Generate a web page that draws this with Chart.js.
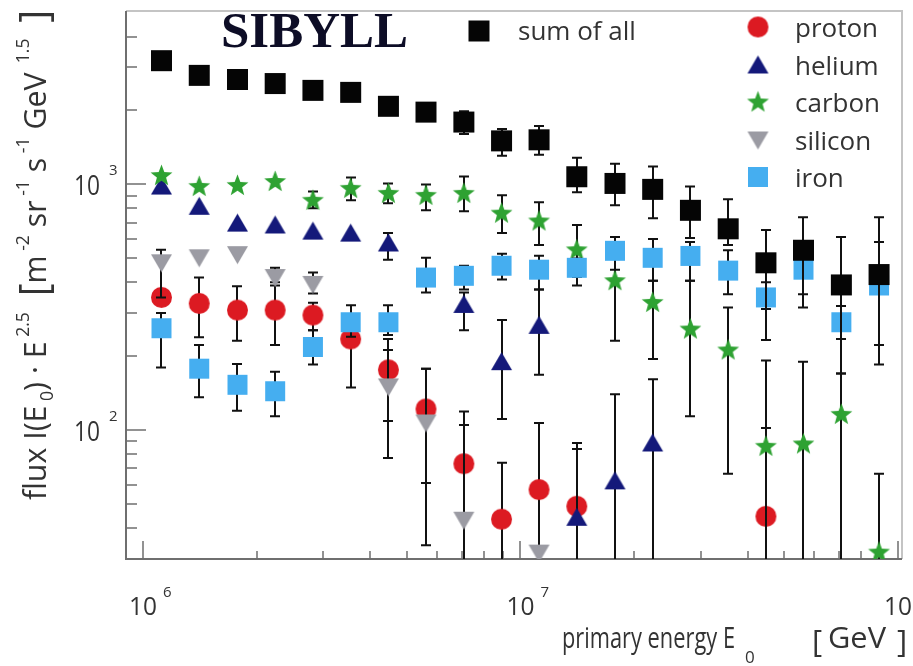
<!DOCTYPE html>
<html>
<head>
<meta charset="utf-8">
<title>SIBYLL flux</title>
<script src="https://cdn.jsdelivr.net/npm/chart.js@4.4.1/dist/chart.umd.min.js"></script>
<style>
  html, body { margin: 0; padding: 0; background: #fff; }
  canvas { display: block; }
</style>
</head>
<body>
<canvas id="fluxChart" width="913" height="666"></canvas>
<script>
// primary energy bins [GeV]
const energy = [1.12e6, 1.41e6, 1.78e6, 2.24e6, 2.82e6, 3.55e6, 4.47e6, 5.62e6, 7.08e6, 8.91e6,
                1.12e7, 1.41e7, 1.78e7, 2.24e7, 2.82e7, 3.55e7, 4.47e7, 5.62e7, 7.08e7, 8.91e7];

// flux * E^2.5 per mass group
const sumAll  = [3190, 2780, 2675, 2575, 2415, 2370, 2080, 1970, 1795, 1505, 1520, 1075, 1010, 955, 785, 660, 480, 540, 390, 430];
const proton  = [347, 328, 308, 308, 294, 235, 176, 122, 73, 43.4, 57.3, 49, null, null, null, null, 44.6, null, null, null];
const helium  = [985, 815, 696, 684, 646, 634, 578, null, 325, 190, 267, 44.2, 62.2, 88.7, null, null, null, null, null, null];
const carbon  = [1087, 982, 991, 1028, 862, 964, 920, 903, 920, 764, 710, 542, 406, 331, 258, 212, 86, 87.9, 116, 31.9];
const silicon = [480, 503, 518, 418, 392, null, 150, 107, 43, null, 31.6, null, null, null, null, null, null, null, null, null];
const iron    = [260, 178, 153, 144, 218, 275, 275, 418, 425, 467, 450, 458, 537, 503, 512, 446, 347, 450, 275, 388];

// error bars as [low, high]; null = hidden behind the marker
const sumErr = [null, null, null, null, null, null, null, null, [1606, 1987], [1309, 1683], [1321, 1729],
                [929, 1285], [822, 1215], [729, 1182], [605, 982], [567, 871], [311, 653], [357, 736], [170, 611], [222, 736]];
const protonErr = [null, [239, 418], [231, 385], [222, 388], [255, 330], [149, 290], [109, 235], [61, 178], [20, 119],
                   [20, 73.6], [20, 107], [20, 88.7], null, null, null, null, [20, 102], null, null, null];
const heliumErr = [null, null, null, null, null, null, [494, 634], null, [255, 363], [111, 281], [168, 374],
                   [20, 83.8], [20, 140], [20, 161], null, null, null, null, null, null];
const carbonErr = [null, null, null, null, [800, 937], [862, 1067], [838, 1009], [785, 1000], [778, 1077], [634, 903],
                   [567, 846], [388, 684], [231, 513], [195, 406], [114, 406], [66.5, 316], [20, 192], [20, 190], [20, 170], [20, 66.5]];
const siliconErr = [[347, 542], null, null, [400, 458], [360, 438], null, [77, 212], [34, 178], [20, 105], null,
                    null, null, null, null, null, null, null, null, null, null];
const ironErr = [[180, 300], [136, 222], [120, 186], [114, 173], [185, 255], [240, 322], [244, 322], [363, 503], [374, 467], [410, 522],
                 [374, 513], [420, 500], [450, 611], [406, 600], [406, 583], [357, 540], [233, 400], [316, 560], [235, 320], [185, 583]];

// axis ticks
const xMajor = [1e6, 1e7, 1e8];
const xMajorExp = ['6', '7', '8'];
const xMinor = [2e6, 3e6, 4e6, 5e6, 6e6, 7e6, 8e6, 9e6, 2e7, 3e7, 4e7, 5e7, 6e7, 7e7, 8e7, 9e7];
const yMajor = [1e2, 1e3];
const yMajorExp = ['2', '3'];
const yMinor = [40, 50, 60, 70, 80, 90, 200, 300, 400, 500, 600, 700, 800, 900, 2000, 3000, 4000];

const SANS = '"Open Sans", "DejaVu Sans", sans-serif';
const TEXT = '#333';

// marker sprites, shared by the datasets and the legend
function sprite(kind, color, size) {
  const c = document.createElement('canvas');
  c.width = size + 2; c.height = size + 2;
  const g = c.getContext('2d');
  const m = (size + 2) / 2, h = size / 2;
  g.fillStyle = color;
  g.beginPath();
  if (kind === 'square') {
    g.rect(m - h, m - h, size, size);
  } else if (kind === 'circle') {
    g.arc(m, m, h, 0, Math.PI * 2);
  } else if (kind === 'up') {
    g.moveTo(m, m - h * 0.9);
    g.lineTo(m + h, m + h * 0.8);
    g.lineTo(m - h, m + h * 0.8);
  } else if (kind === 'down') {
    g.moveTo(m, m + h * 0.9);
    g.lineTo(m + h, m - h * 0.8);
    g.lineTo(m - h, m - h * 0.8);
  } else if (kind === 'star') {
    for (let k = 0; k < 10; k++) {
      const r = k % 2 ? h * 0.42 : h;
      const a = -Math.PI / 2 + k * Math.PI / 5;
      g.lineTo(m + r * Math.cos(a), m + 0.5 + r * Math.sin(a));
    }
  }
  g.closePath();
  g.fill();
  return c;
}

const marks = {
  sum: sprite('square', '#050505', 21),
  proton: sprite('circle', '#dc1a22', 21),
  helium: sprite('up', '#14197a', 21),
  carbon: sprite('star', '#2ea232', 23),
  silicon: sprite('down', '#9b9ba3', 21),
  iron: sprite('square', '#45aef0', 20)
};

function points(values) {
  return energy.map((e, i) => ({ x: e, y: values[i] })).filter(p => p.y !== null);
}

function group(label, values, errors, mark) {
  return {
    label: label,
    data: points(values),
    errors: errors,
    pointStyle: mark,
    pointRadius: 10,
    showLine: false
  };
}

function text(ctx, str, x, y, size, o) {
  o = o || {};
  ctx.save();
  ctx.font = (o.weight || '400') + ' ' + size + 'px ' + (o.family || SANS);
  ctx.fillStyle = o.color || TEXT;
  ctx.textBaseline = 'alphabetic';
  const w = ctx.measureText(str).width;
  const sx = o.width ? o.width / w : (o.sx || 1);
  let x0 = x;
  if (o.align === 'center') x0 = x - w * sx / 2;
  if (o.align === 'right') x0 = x - w * sx;
  ctx.translate(x0, y);
  ctx.scale(sx, 1);
  ctx.fillText(str, 0, 0);
  ctx.restore();
}

// a line of mixed-size pieces squeezed to a given length
function textRuns(ctx, parts, length) {
  let total = 0;
  const widths = parts.map(p => {
    ctx.font = p.s + 'px ' + SANS;
    const w = ctx.measureText(p.t).width;
    total += w;
    return w;
  });
  const k = length / total;
  let u = 0;
  ctx.fillStyle = TEXT;
  parts.forEach((p, i) => {
    ctx.save();
    ctx.font = p.s + 'px ' + SANS;
    ctx.translate(u, p.dy || 0);
    ctx.scale(k, 1);
    ctx.fillText(p.t, 0, 0);
    ctx.restore();
    u += widths[i] * k;
  });
}

const errorBars = {
  id: 'errorBars',
  beforeDatasetDraw(chart, args) {
    const ds = chart.data.datasets[args.index];
    if (!ds.errors) return;
    const { ctx, chartArea: a } = chart;
    const xs = chart.scales.x, ys = chart.scales.y;
    ctx.save();
    ctx.beginPath();
    ctx.rect(a.left, a.top, a.right - a.left, a.bottom - a.top);
    ctx.clip();
    ctx.strokeStyle = '#111';
    ctx.lineWidth = 2;
    ds.errors.forEach((e, i) => {
      if (!e) return;
      const x = Math.round(xs.getPixelForValue(energy[i]));
      const lo = ys.getPixelForValue(e[0]);
      const hi = ys.getPixelForValue(e[1]);
      ctx.beginPath();
      ctx.moveTo(x, lo); ctx.lineTo(x, hi);
      ctx.moveTo(x - 5, hi); ctx.lineTo(x + 5, hi);
      ctx.moveTo(x - 5, lo); ctx.lineTo(x + 5, lo);
      ctx.stroke();
    });
    ctx.restore();
  }
};

const frame = {
  id: 'frame',
  beforeDatasetsDraw(chart) {
    const { ctx, chartArea: a } = chart;
    const xs = chart.scales.x, ys = chart.scales.y;
    ctx.save();
    ctx.lineWidth = 2;
    ctx.strokeStyle = '#c4c4c4';
    ctx.beginPath();
    ctx.moveTo(a.left, a.top); ctx.lineTo(a.right, a.top); ctx.lineTo(a.right, a.bottom);
    ctx.stroke();
    ctx.strokeStyle = '#6f6f6f';
    ctx.beginPath();
    ctx.moveTo(a.left, a.top); ctx.lineTo(a.left, a.bottom); ctx.lineTo(a.right, a.bottom);
    ctx.stroke();
    // inward tick marks
    ctx.lineWidth = 1.5;
    ctx.beginPath();
    yMajor.forEach(v => { const y = Math.round(ys.getPixelForValue(v)); ctx.moveTo(a.left, y); ctx.lineTo(a.left + 20, y); });
    yMinor.forEach(v => { const y = Math.round(ys.getPixelForValue(v)); ctx.moveTo(a.left, y); ctx.lineTo(a.left + 11, y); });
    xMajor.forEach(v => { const x = Math.round(xs.getPixelForValue(v)); ctx.moveTo(x, a.bottom); ctx.lineTo(x, a.bottom - 18); });
    xMinor.forEach(v => { const x = Math.round(xs.getPixelForValue(v)); ctx.moveTo(x, a.bottom); ctx.lineTo(x, a.bottom - 8); });
    ctx.stroke();
    ctx.restore();
  },
  afterDraw(chart) {
    const { ctx } = chart;
    const xs = chart.scales.x, ys = chart.scales.y;

    // decade labels
    xMajor.forEach((v, i) => {
      const x = xs.getPixelForValue(v);
      text(ctx, '10', x, 615, 26, { align: 'center', width: 28 });
      text(ctx, xMajorExp[i], x + 20, 597, 15);
    });
    yMajor.forEach((v, i) => {
      const y = ys.getPixelForValue(v);
      text(ctx, '10', 100, y + 11, 27, { align: 'right', width: 26 });
      text(ctx, yMajorExp[i], 109, y - 9, 15);
    });

    // axis titles
    text(ctx, 'primary energy E', 562, 648, 29, { width: 173 });
    text(ctx, '0', 745, 663, 17);
    text(ctx, '[', 812, 652, 31);
    text(ctx, 'GeV', 828, 648, 29, { width: 58 });
    text(ctx, ']', 897, 652, 31);

    ctx.save();
    ctx.translate(46, 500);
    ctx.rotate(-Math.PI / 2);
    textRuns(ctx, [
      { t: 'flux I(E', s: 31 },
      { t: ' 0', s: 18, dy: 7 },
      { t: ')', s: 31 },
      { t: ' · E', s: 31 },
      { t: ' 2.5', s: 18, dy: -17 },
      { t: '  ', s: 31 },
      { t: '[', s: 40, dy: 2 },
      { t: 'm', s: 31 },
      { t: ' -2', s: 18, dy: -17 },
      { t: ' sr', s: 31 },
      { t: ' -1', s: 18, dy: -17 },
      { t: ' s', s: 31 },
      { t: ' -1', s: 18, dy: -17 },
      { t: ' GeV', s: 31 },
      { t: '  1.5', s: 18, dy: -17 },
      { t: '  ', s: 31 },
      { t: ']', s: 40, dy: 2 }
    ], 490);
    ctx.restore();

    // model name
    text(ctx, 'SIBYLL', 221, 47, 50, { weight: '700', family: '"Liberation Serif", "Times New Roman", serif', color: '#0d0d26', width: 187 });

    // legend
    const put = (img, x, y) => ctx.drawImage(img, x - img.width / 2, y - img.height / 2);
    put(marks.sum, 479, 31);
    text(ctx, 'sum of all', 518, 40, 26);
    [['proton', marks.proton, 27], ['helium', marks.helium, 65], ['carbon', marks.carbon, 102],
     ['silicon', marks.silicon, 140], ['iron', marks.iron, 177]].forEach(r => {
      put(r[1], 758, r[2]);
      text(ctx, r[0], 795, r[2] + 10, 26);
    });
  }
};

new Chart(document.getElementById('fluxChart'), {
  type: 'scatter',
  data: {
    datasets: [
      group('sum of all', sumAll, sumErr, marks.sum),
      group('iron', iron, ironErr, marks.iron),
      group('silicon', silicon, siliconErr, marks.silicon),
      group('carbon', carbon, carbonErr, marks.carbon),
      group('helium', helium, heliumErr, marks.helium),
      group('proton', proton, protonErr, marks.proton)
    ]
  },
  options: {
    responsive: false,
    animation: false,
    events: [],
    layout: { padding: { left: 126, top: 6, right: 6, bottom: 107 } },
    scales: {
      x: { type: 'logarithmic', min: 9.02e5, max: 1.025e8, display: false },
      y: { type: 'logarithmic', min: 29.9, max: 5080, display: false }
    },
    plugins: {
      legend: { display: false },
      tooltip: { enabled: false }
    }
  },
  plugins: [frame, errorBars]
});
</script>
</body>
</html>
